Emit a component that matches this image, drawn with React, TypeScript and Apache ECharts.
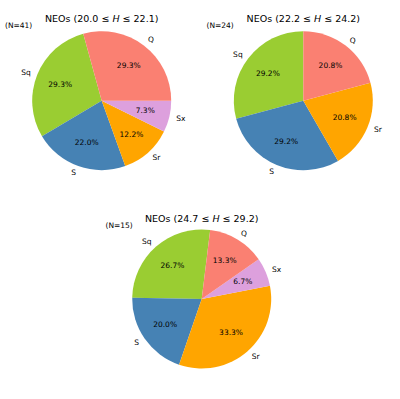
import React, { useEffect, useRef } from "react";
import * as echarts from "echarts";

// ---- data ----
const categories = ["Sq", "S", "Sr", "Sx", "Q"];
const countsA = [12, 9, 5, 3, 12]; // N=41
const countsB = [7, 7, 5, 0, 5]; // N=24
const countsC = [4, 3, 5, 1, 2]; // N=15
const hMin = [20.0, 22.2, 24.7];
const hMax = [22.1, 24.2, 29.2];

// ---- styles / layout ----
const colorMap: Record<string, string> = {
  Sq: "#9acd32",
  S: "#4682b4",
  Sr: "#ffa500",
  Sx: "#dda0dd",
  Q: "#fa8072",
};
const FONT = "DejaVu Sans";
const R = 69.5;
const layouts = [
  { cx: 101.7, cy: 100.7, start: 105.4, titleY: 18.5, nX: 5, nY: 25.7 },
  { cx: 303.3, cy: 100.7, start: 90, titleY: 18.5, nX: 206.5, nY: 25.7 },
  { cx: 201.7, cy: 299.0, start: 83, titleY: 218.5, nX: 105.5, nY: 225.7 },
];

export default function App() {
  const ref = useRef<HTMLDivElement>(null);
  useEffect(() => {
    document.body.style.margin = "0";
    const chart = echarts.init(ref.current!, null, { renderer: "svg" });
    const allCounts = [countsA, countsB, countsC];
    const series: any[] = [];
    const graphics: any[] = [];
    allCounts.forEach((counts, i) => {
      const L = layouts[i];
      const total = counts.reduce((a, b) => a + b, 0);
      const data = categories
        .map((c, k) => ({ name: c, value: counts[k], itemStyle: { color: colorMap[c] } }))
        .filter((d) => d.value > 0);
      series.push({
        type: "pie",
        center: [L.cx, L.cy],
        radius: [0, R],
        startAngle: L.start,
        clockwise: false,
        avoidLabelOverlap: false,
        silent: true,
        itemStyle: { borderWidth: 0 },
        label: {
          show: true,
          position: "outside",
          formatter: "{b}",
          fontFamily: FONT,
          fontSize: 7.5,
          color: "#000",
          distanceToLabelLine: 0,
        },
        labelLine: { show: false, length: R * 0.1, length2: 0 },
        data,
      });
      series.push({
        type: "pie",
        center: [L.cx, L.cy],
        radius: [R * 0.2, R],
        startAngle: L.start,
        clockwise: false,
        avoidLabelOverlap: false,
        silent: true,
        itemStyle: { color: "rgba(0,0,0,0)", borderWidth: 0 },
        label: {
          show: true,
          position: "inside",
          formatter: (p: any) => ((p.value / total) * 100).toFixed(1) + "%",
          fontFamily: FONT,
          fontSize: 7.5,
          color: "#000",
        },
        labelLine: { show: false },
        data: data.map((d) => ({ name: d.name, value: d.value })),
      });
      graphics.push({
        type: "text",
        x: L.cx,
        y: L.titleY,
        style: {
          text: `{n|NEOs (${hMin[i].toFixed(1)} ≤ }{i|H}{n| ≤ ${hMax[i].toFixed(1)})}`,
          rich: {
            n: { fontFamily: FONT, fontSize: 9.5, fill: "#000", color: "#000" },
            i: { fontFamily: FONT, fontSize: 9.5, fontStyle: "italic", fill: "#000", color: "#000" },
          },
          fontFamily: FONT,
          fontSize: 9.5,
          fill: "#000",
          align: "center",
          textAlign: "center",
          verticalAlign: "middle",
          textVerticalAlign: "middle",
        },
      });
      graphics.push({
        type: "text",
        x: L.nX,
        y: L.nY,
        style: {
          text: `(N=${total})`,
          fontFamily: FONT,
          fontSize: 7.5,
          fill: "#000",
          align: "left",
          textAlign: "left",
          verticalAlign: "middle",
          textVerticalAlign: "middle",
        },
      });
    });
    chart.setOption({
      animation: false,
      backgroundColor: "#fff",
      series,
      graphic: graphics,
    });
    return () => chart.dispose();
  }, []);
  return <div ref={ref} style={{ width: 400, height: 399 }} />;
}
